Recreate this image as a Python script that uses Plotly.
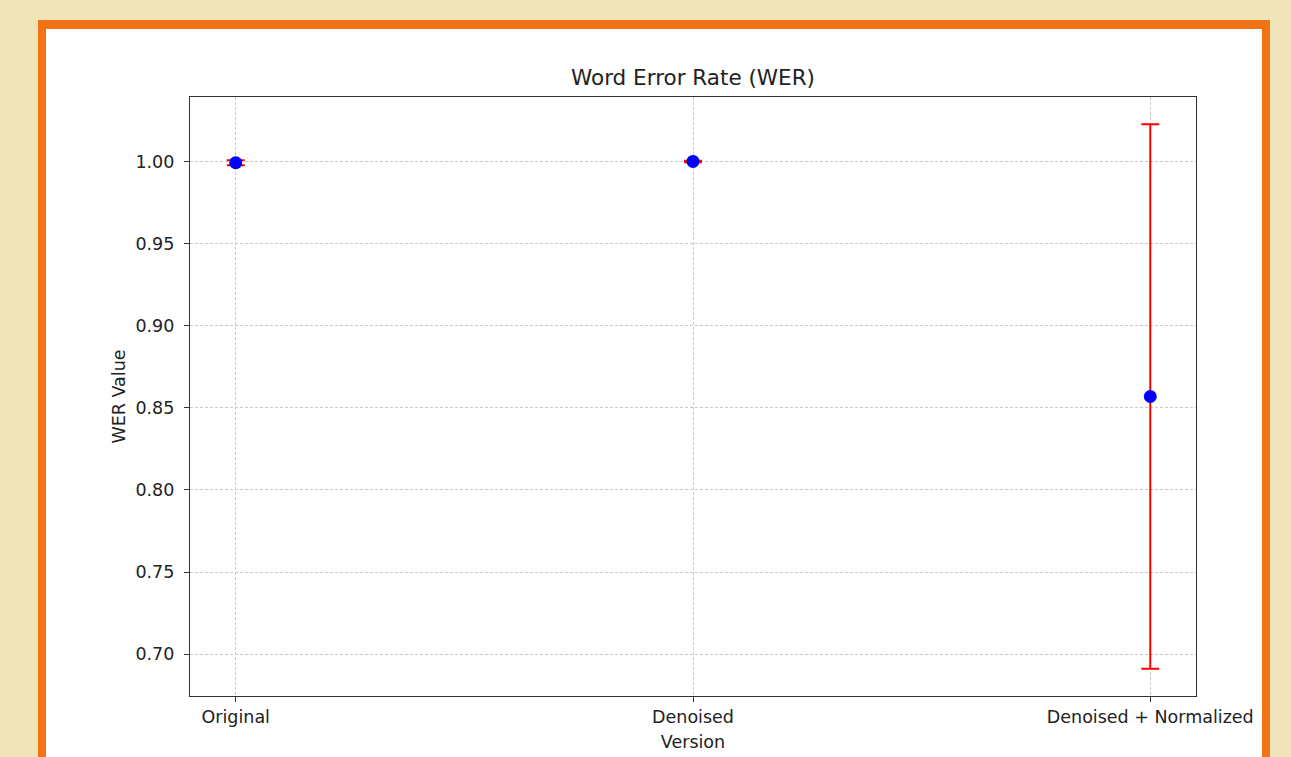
import plotly.graph_objects as go

# WER per processing version: mean and spread
versions = ["Original", "Denoised", "Denoised + Normalized"]
wer_mean = [0.9995, 1.0003, 0.857]
wer_err = [0.0015, 0.0005, 0.166]

y_ticks = [0.70, 0.75, 0.80, 0.85, 0.90, 0.95, 1.00]

W, H = 1291, 757
L, R, T, B = 190, 95, 97, 61
pw, ph = W - L - R, H - T - B


def px_x(px):
    return (px - L) / pw


def px_y(py):
    return (H - B - py) / ph


fig = go.Figure()
fig.add_trace(go.Scatter(
    x=list(range(len(versions))),
    y=wer_mean,
    mode="markers",
    marker=dict(color="#0000FF", size=13, line=dict(width=0)),
    error_y=dict(type="data", array=wer_err, visible=True,
                 color="#FF0000", thickness=2, width=9),
    showlegend=False,
))

font = "DejaVu Sans, sans-serif"
axis_common = dict(
    showline=True, linecolor="#333333", linewidth=1.3, mirror=True,
    ticks="outside", ticklen=5, tickwidth=1.2, tickcolor="#333333",
    showgrid=True, gridcolor="#c8c8c8", gridwidth=1, griddash="3px,2px",
    zeroline=False, automargin=False,
    tickfont=dict(family=font, size=17.5, color="#222222"),
)

fig.update_layout(
    width=W, height=H,
    margin=dict(l=L, r=R, t=T, b=B),
    paper_bgcolor="#EFE5B8",
    plot_bgcolor="#FFFFFF",
    title=dict(text="Word Error Rate (WER)", x=0.5, xref="paper",
               y=1 - 77 / H, yref="container", yanchor="middle",
               xanchor="center",
               font=dict(family=font, size=21.5, color="#222222")),
    xaxis=dict(
        **axis_common,
        range=[-0.1, 2.1],
        tickmode="array",
        tickvals=list(range(len(versions))),
        ticktext=versions,
        ticklabelstandoff=0,
        title=dict(text="Version", standoff=9,
                   font=dict(family=font, size=17.5, color="#222222")),
    ),
    yaxis=dict(
        **axis_common,
        range=[0.6744, 1.0396],
        tickmode="array",
        tickvals=y_ticks,
        ticktext=[f"{v:.2f}" for v in y_ticks],
        ticklabelstandoff=6,
        title=dict(text="WER Value", standoff=5,
                   font=dict(family=font, size=17.5, color="#222222")),
    ),
    shapes=[
        # orange frame
        dict(type="rect", xref="paper", yref="paper", layer="below",
             x0=px_x(38), x1=px_x(1270), y0=px_y(800), y1=px_y(20),
             fillcolor="#F47216", line=dict(width=0)),
        # white card inside the frame
        dict(type="rect", xref="paper", yref="paper", layer="below",
             x0=px_x(46), x1=px_x(1262), y0=px_y(800), y1=px_y(29),
             fillcolor="#FFFFFF", line=dict(width=0)),
    ],
)

fig.write_html("out.html")
